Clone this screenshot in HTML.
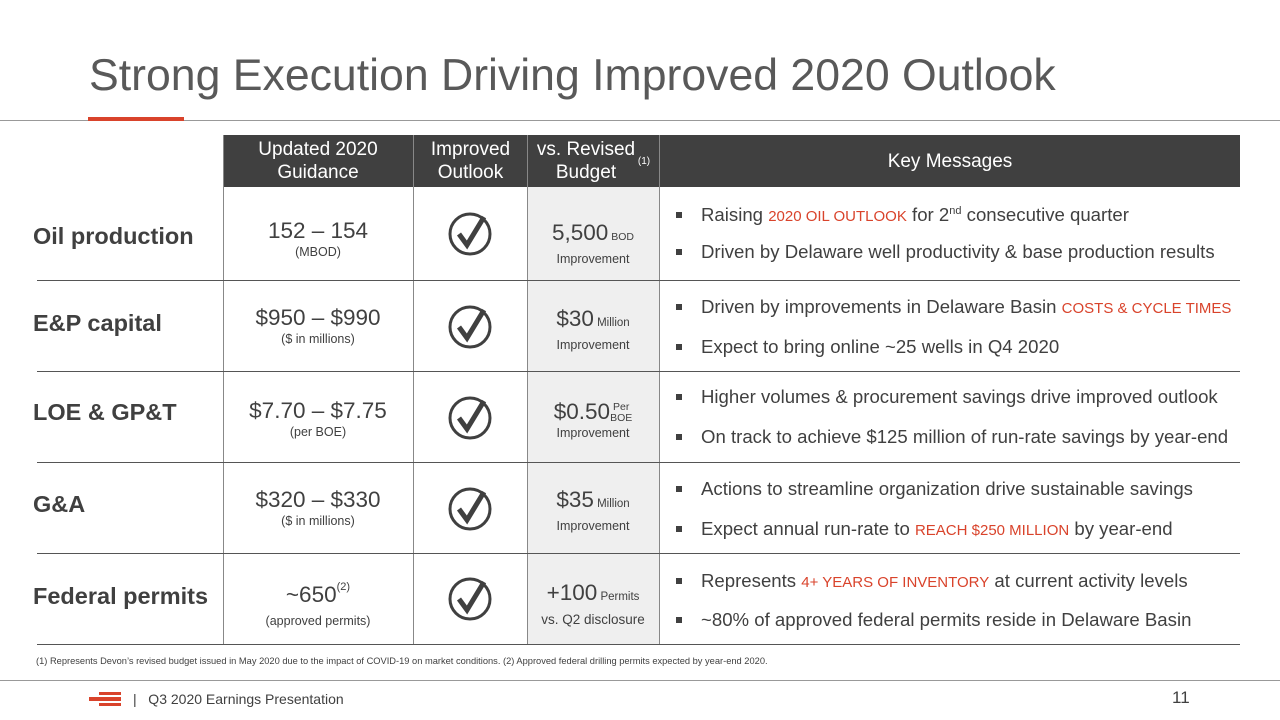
<!DOCTYPE html>
<html><head><meta charset="utf-8"><style>
body{margin:0;width:1280px;height:720px;position:relative;background:#fff;font-family:"Liberation Sans",sans-serif;color:#404040;overflow:hidden}
.a{position:absolute}
.hd{position:absolute;top:135px;height:52px;background:#404040;color:#fff;font-size:19px;line-height:23px;display:flex;align-items:center;justify-content:center;text-align:center}
.lbl{position:absolute;left:33px;font-size:23.5px;font-weight:bold;color:#404040}
.cell{position:absolute;text-align:center}
.big{font-size:22.5px;line-height:25px}
.sm{font-size:12.5px;line-height:18px}
.sm2{font-size:13.5px;line-height:20px}
.tiny{font-size:10.5px}
.msg{position:absolute;left:681px;font-size:18.6px;color:#404040;white-space:nowrap}
.msg:before{content:"";position:absolute;left:-5px;top:8px;width:6px;height:6px;background:#404040}
.msg span.t{padding-left:20px}
.r{color:#d9432b;font-size:15px}
.sep{position:absolute;left:37px;width:1203px;height:1px;background:#555}
.vl{position:absolute;top:135px;width:1px;height:509px;background:#888}
</style></head><body>
<div class="a" style="left:89px;top:48px;font-size:44.6px;color:#595959;line-height:56px">Strong Execution Driving Improved 2020 Outlook</div>
<div class="a" style="left:0;top:120px;width:1280px;height:1px;background:#999"></div>
<div class="a" style="left:88px;top:117px;width:96px;height:4px;background:#d9432b"></div>

<div class="a" style="left:527px;top:187px;width:132px;height:457px;background:#efefef"></div>

<div class="hd" style="left:223px;width:190px">Updated 2020<br>Guidance</div>
<div class="hd" style="left:414px;width:113px">Improved<br>Outlook</div>
<div class="hd" style="left:528px;width:131px">vs. Revised<br>Budget<sup style="font-size:10px">&nbsp;(1)</sup></div>
<div class="hd" style="left:660px;width:580px">Key Messages</div>

<div class="vl" style="left:223px"></div>
<div class="vl" style="left:413px"></div>
<div class="vl" style="left:527px"></div>
<div class="vl" style="left:659px"></div>

<div class="sep" style="top:280px"></div>
<div class="sep" style="top:371px"></div>
<div class="sep" style="top:462px"></div>
<div class="sep" style="top:553px"></div>
<div class="sep" style="top:644px"></div>

<div class="lbl" style="top:223px">Oil production</div>
<div class="lbl" style="top:310px">E&amp;P capital</div>
<div class="lbl" style="top:399px">LOE &amp; GP&amp;T</div>
<div class="lbl" style="top:491px">G&amp;A</div>
<div class="lbl" style="top:583px">Federal permits</div>

<div class="cell" style="left:223px;width:190px;top:218px"><div class="big">152 – 154</div><div class="sm">(MBOD)</div></div>
<div class="cell" style="left:223px;width:190px;top:305px"><div class="big">$950 – $990</div><div class="sm">($ in millions)</div></div>
<div class="cell" style="left:223px;width:190px;top:398px"><div class="big">$7.70 – $7.75</div><div class="sm">(per BOE)</div></div>
<div class="cell" style="left:223px;width:190px;top:487px"><div class="big">$320 – $330</div><div class="sm">($ in millions)</div></div>
<div class="cell" style="left:223px;width:190px;top:582px"><div class="big">~650<span style="font-size:11px;position:relative;top:-12px">(2)</span></div><div class="sm">(approved permits)</div></div>

<div class="cell" style="left:527px;width:132px;top:220px"><div class="big">5,500<span class="tiny"> BOD</span></div><div class="sm">Improvement</div></div>
<div class="cell" style="left:527px;width:132px;top:306px"><div class="big">$30<span class="tiny" style="font-size:11.5px"> Million</span></div><div class="sm">Improvement</div></div>
<div class="cell" style="left:527px;width:132px;top:399px"><div class="big">$0.50<span class="tiny" style="display:inline-block;line-height:11px;vertical-align:middle"> Per<br>BOE</span></div><div class="sm">Improvement</div></div>
<div class="cell" style="left:527px;width:132px;top:487px"><div class="big">$35<span class="tiny" style="font-size:11.5px"> Million</span></div><div class="sm">Improvement</div></div>
<div class="cell" style="left:527px;width:132px;top:580px"><div class="big">+100<span class="tiny" style="font-size:11.5px"> Permits</span></div><div class="sm2">vs. Q2 disclosure</div></div>

<svg class="a" width="114" height="457" style="left:413px;top:187px">
<g fill="none" stroke="#404040">
<g transform="translate(57,47)"><circle r="20" stroke-width="3"/><path d="M-11,0 L-3,11 L14,-17" stroke-width="5"/></g>
<g transform="translate(57,140)"><circle r="20" stroke-width="3"/><path d="M-11,0 L-3,11 L14,-17" stroke-width="5"/></g>
<g transform="translate(57,231)"><circle r="20" stroke-width="3"/><path d="M-11,0 L-3,11 L14,-17" stroke-width="5"/></g>
<g transform="translate(57,322)"><circle r="20" stroke-width="3"/><path d="M-11,0 L-3,11 L14,-17" stroke-width="5"/></g>
<g transform="translate(57,412)"><circle r="20" stroke-width="3"/><path d="M-11,0 L-3,11 L14,-17" stroke-width="5"/></g>
</g></svg>

<div class="msg" style="top:204px"><span class="t">Raising <span class="r">2020 OIL OUTLOOK</span> for 2<sup style="font-size:11px">nd</sup> consecutive quarter</span></div>
<div class="msg" style="top:241px"><span class="t">Driven by Delaware well productivity &amp; base production results</span></div>
<div class="msg" style="top:296px"><span class="t">Driven by improvements in Delaware Basin <span class="r">COSTS &amp; CYCLE TIMES</span></span></div>
<div class="msg" style="top:336px"><span class="t">Expect to bring online ~25 wells in Q4 2020</span></div>
<div class="msg" style="top:386px"><span class="t">Higher volumes &amp; procurement savings drive improved outlook</span></div>
<div class="msg" style="top:426px"><span class="t">On track to achieve $125 million of run-rate savings by year-end</span></div>
<div class="msg" style="top:478px"><span class="t">Actions to streamline organization drive sustainable savings</span></div>
<div class="msg" style="top:518px"><span class="t">Expect annual run-rate to <span class="r">REACH $250 MILLION</span> by year-end</span></div>
<div class="msg" style="top:570px"><span class="t">Represents <span class="r">4+ YEARS OF INVENTORY</span> at current activity levels</span></div>
<div class="msg" style="top:609px"><span class="t">~80% of approved federal permits reside in Delaware Basin</span></div>

<div class="a" style="left:36px;top:656px;font-size:9.3px;color:#404040;white-space:nowrap">(1) Represents Devon’s revised budget issued in May 2020 due to the impact of COVID-19 on market conditions. (2) Approved federal drilling permits expected by year-end 2020.</div>
<div class="a" style="left:0;top:680px;width:1280px;height:1px;background:#999"></div>
<div class="a" style="left:89px;top:692px;width:32px;height:14px">
<div class="a" style="left:10px;top:0;width:22px;height:3px;background:#d9432b"></div>
<div class="a" style="left:0;top:5px;width:32px;height:4px;background:#d9432b"></div>
<div class="a" style="left:10px;top:11px;width:22px;height:3px;background:#d9432b"></div></div>
<div class="a" style="left:133px;top:691px;font-size:14px;color:#404040">|&nbsp;&nbsp; Q3 2020 Earnings Presentation</div>
<div class="a" style="left:1172px;top:688px;font-size:17px;color:#404040">11</div>
</body></html>
